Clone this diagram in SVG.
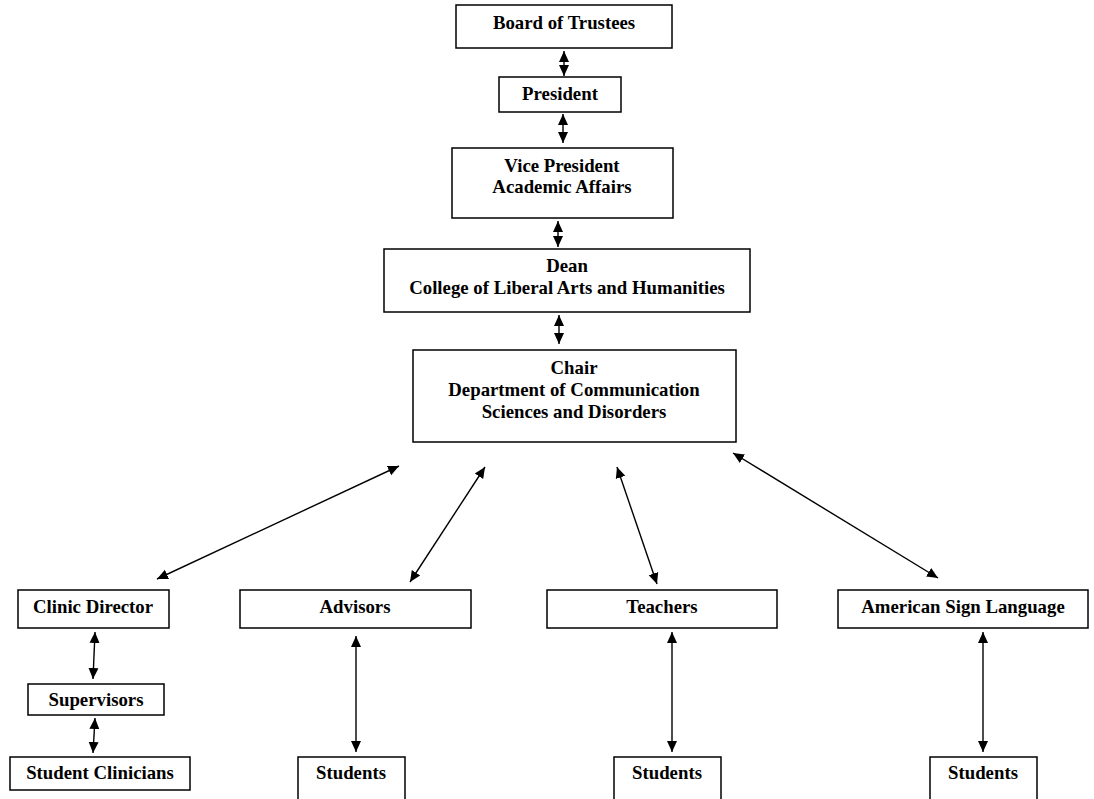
<svg xmlns="http://www.w3.org/2000/svg" width="1094" height="799" viewBox="0 0 1094 799">
<style>
.box{fill:#fff;stroke:#000;stroke-width:1.5}
.t{font-family:"Liberation Serif","Times New Roman",serif;font-weight:bold;font-size:18.8px;fill:#000;text-anchor:middle}
.c{stroke:#000;stroke-width:1.4;fill:none;marker-start:url(#ah);marker-end:url(#ah)}
</style>
<defs>
<marker id="ah" markerUnits="userSpaceOnUse" markerWidth="12" markerHeight="12" refX="11" refY="5" viewBox="0 0 12 10" orient="auto-start-reverse">
<path d="M0,0 L11,5 L0,10 Z" fill="#000"/>
</marker>
</defs>
<rect width="1094" height="799" fill="#fff"/>
<g id="connectors">
<line class="c" x1="564" y1="51" x2="564" y2="76"/>
<line class="c" x1="563" y1="114" x2="563" y2="143"/>
<line class="c" x1="558" y1="221" x2="558" y2="247"/>
<line class="c" x1="559" y1="315" x2="559" y2="344"/>
<line class="c" x1="399" y1="466" x2="157" y2="579"/>
<line class="c" x1="485" y1="467" x2="410" y2="582"/>
<line class="c" x1="617" y1="467" x2="657" y2="584"/>
<line class="c" x1="733" y1="453" x2="938" y2="578"/>
<line class="c" x1="95" y1="632" x2="93" y2="679"/>
<line class="c" x1="95" y1="718" x2="93" y2="753"/>
<line class="c" x1="356" y1="636" x2="356" y2="752"/>
<line class="c" x1="672" y1="632" x2="672" y2="752"/>
<line class="c" x1="983" y1="632" x2="983" y2="752"/>
</g>
<g id="board"><rect class="box" x="456" y="5" width="216" height="43"/><text class="t" x="564" y="29">Board of Trustees</text></g>
<g id="president"><rect class="box" x="499" y="77" width="122" height="35"/><text class="t" x="560" y="100">President</text></g>
<g id="vp"><rect class="box" x="452" y="148" width="221" height="70"/><text class="t" x="562" y="172">Vice President</text><text class="t" x="562" y="193">Academic Affairs</text></g>
<g id="dean"><rect class="box" x="384" y="249" width="366" height="63"/><text class="t" x="567" y="272">Dean</text><text class="t" x="567" y="294">College of Liberal Arts and Humanities</text></g>
<g id="chair"><rect class="box" x="413" y="350" width="323" height="92"/><text class="t" x="574" y="374">Chair</text><text class="t" x="574" y="396">Department of Communication</text><text class="t" x="574" y="418">Sciences and Disorders</text></g>
<g id="clinic-director"><rect class="box" x="18" y="590" width="151" height="38"/><text class="t" x="93" y="613">Clinic Director</text></g>
<g id="supervisors"><rect class="box" x="28" y="684" width="136" height="31"/><text class="t" x="96" y="706">Supervisors</text></g>
<g id="student-clinicians"><rect class="box" x="10" y="757" width="180" height="33"/><text class="t" x="100" y="779">Student Clinicians</text></g>
<g id="advisors"><rect class="box" x="240" y="590" width="231" height="38"/><text class="t" x="355" y="613">Advisors</text></g>
<g id="teachers"><rect class="box" x="547" y="590" width="230" height="38"/><text class="t" x="662" y="613">Teachers</text></g>
<g id="asl"><rect class="box" x="838" y="590" width="250" height="38"/><text class="t" x="963" y="613">American Sign Language</text></g>
<g id="students-1"><rect class="box" x="298" y="757" width="107" height="44"/><text class="t" x="351" y="779">Students</text></g>
<g id="students-2"><rect class="box" x="614" y="757" width="107" height="44"/><text class="t" x="667" y="779">Students</text></g>
<g id="students-3"><rect class="box" x="930" y="757" width="107" height="44"/><text class="t" x="983" y="779">Students</text></g>
</svg>
